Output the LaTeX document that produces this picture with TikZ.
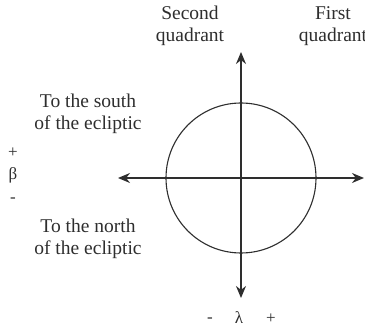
\documentclass[tikz,border=0pt]{standalone}
\usepackage{fontspec}
\setmainfont{Liberation Serif}
\usetikzlibrary{arrows.meta}
\definecolor{ink}{gray}{0.18}
\begin{document}
\begin{tikzpicture}[x=1pt,y=-1pt,
  lbl/.style={align=center,inner sep=0pt,text=ink,font=\fontsize{19.5}{22.5}\selectfont},
  sym/.style={inner sep=0pt,text=ink,font=\fontsize{17}{20}\selectfont},
  axis/.style={draw=ink,line width=1.3pt,-{Stealth[length=12pt,width=10pt]}}]
\useasboundingbox (0,0) rectangle (365,331);
\node[lbl] (q2) at (190,26) {Second\\quadrant};
\node[lbl] (q1) at (333,26) {First\\quadrant};
\node[lbl] (south) at (88,114) {To the south\\of the ecliptic};
\node[lbl] (north) at (88,239) {To the north\\of the ecliptic};
\node[sym] (bp) at (13,153) {+};
\node[sym] (beta) at (13,175) {β};
\node[sym] (bm) at (13,200) {-};
\node[sym] (lm) at (210,320) {-};
\node[sym] (lam) at (239,318) {λ};
\node[sym] (lp) at (271,319) {+};
\coordinate (c) at (241,178);
\draw[draw=ink,line width=1.1pt] (c) circle[radius=75];
\coordinate (top) at (241,52);
\coordinate (bot) at (241,298);
\coordinate (lft) at (118,178);
\coordinate (rgt) at (364,178);
\draw[axis] (c) -- (top);
\draw[axis] (c) -- (bot);
\draw[axis] (c) -- (lft);
\draw[axis] (c) -- (rgt);
\end{tikzpicture}
\end{document}
